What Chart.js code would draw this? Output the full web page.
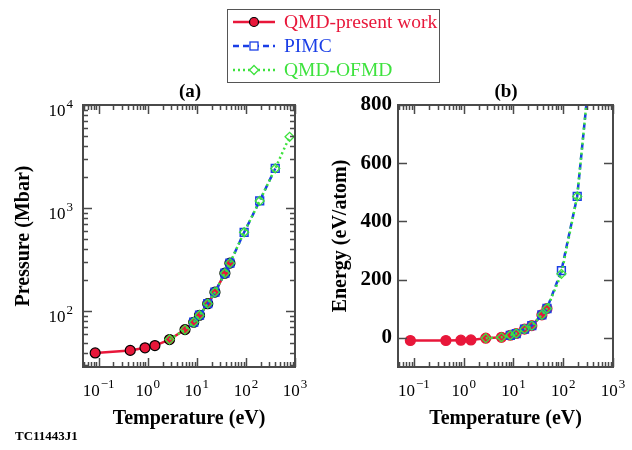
<!DOCTYPE html>
<html lang="en">
<head>
<meta charset="UTF-8">
<title>QMD vs PIMC vs OFMD</title>
<script src="https://cdn.jsdelivr.net/npm/chart.js"></script>
<style>
  body { margin: 0; width: 632px; height: 450px; background: #fff; position: relative; overflow: hidden;
         font-family: "Liberation Serif", "Times New Roman", serif; }
  .panel { position: absolute; top: 0; width: 316px; height: 450px; }
  #panelA { left: 0; }
  #panelB { left: 316px; }
  .tag { position: absolute; top: 80px; font-size: 19px; font-weight: bold; width: 40px; text-align: center; }
  #legend { position: absolute; left: 227px; top: 9px; width: 211px; height: 72px;
            border: 1.5px solid #555; box-sizing: content-box; }
  #legend .row { height: 24px; display: flex; align-items: center; font-size: 19.5px; white-space: nowrap; }
  #legend svg { margin-left: 4px; margin-right: 8px; flex: none; }
  #stamp { position: absolute; left: 15px; top: 428px; font-size: 13px; font-weight: bold; }
</style>
</head>
<body>
<div class="panel" id="panelA"><canvas id="chartA" width="316" height="450"></canvas></div>
<div class="panel" id="panelB"><canvas id="chartB" width="316" height="450"></canvas></div>
<div class="tag" style="left:170px">(a)</div>
<div class="tag" style="left:486px">(b)</div>

<div id="legend">
  <div class="row" style="color:#e8173a">
    <svg width="44" height="14"><line x1="1" y1="7" x2="43" y2="7" stroke="#e8173a" stroke-width="2.5"/>
      <circle cx="22" cy="7" r="4.5" fill="#e8173a" stroke="#000" stroke-width="1.2"/></svg>QMD-present work</div>
  <div class="row" style="color:#1a3ee6">
    <svg width="44" height="14"><line x1="1" y1="7" x2="43" y2="7" stroke="#1a3ee6" stroke-width="2.5" stroke-dasharray="6,4"/>
      <rect x="18" y="3" width="8" height="8" fill="#fff" stroke="#1a3ee6" stroke-width="1.3"/></svg>PIMC</div>
  <div class="row" style="color:#3ee23e">
    <svg width="44" height="14"><line x1="1" y1="7" x2="43" y2="7" stroke="#3ee23e" stroke-width="2.5" stroke-dasharray="2,3"/>
      <polygon points="22,2.5 26.5,7 22,11.5 17.5,7" fill="#fff" stroke="#3ee23e" stroke-width="1.3"/></svg>QMD-OFMD</div>
</div>
<div id="stamp">TC11443J1</div>

<script>
// temperatures (eV)
const qmdT  = [0.085, 0.44, 0.88, 1.4, 2.78, 5.75, 8.65, 11.35, 16.7, 23.4, 37.3, 47.2];
const pimcT = [8.65, 11.35, 16.7, 23.4, 37.3, 47.2, 92, 191, 396];
const ofmdT = [2.78, 5.75, 8.65, 11.35, 16.7, 23.4, 37.3, 47.2, 92, 191, 396, 776];

// pressure (Mbar)
const qmdP  = [39.7, 42, 44.5, 46.8, 53.5, 66.8, 78.7, 92, 119, 154, 235, 294];
const pimcP = [78.7, 92, 119, 154, 235, 294, 585, 1177, 2430];
const ofmdP = [53.5, 66.8, 78.7, 92, 119, 154, 235, 294, 585, 1177, 2430, 4920];

// energy (eV/atom)
const qmdE  = [-9, -9, -8, -7, -1, 2, 9, 15, 30, 42, 79, 101];
const pimcE = [9, 15, 30, 42, 79, 101, 231, 486, 1030];
const ofmdE = [-1, 2, 9, 15, 30, 42, 79, 101, 220, 486, 1030, 2300];

// tick labels (powers of ten drawn as base + exponent)
const tempTicks = [0.1, 1, 10, 100, 1000];
const tempExp   = ['\u22121', '0', '1', '2', '3'];
const presTicks = [100, 1000, 10000];
const presExp   = ['2', '3', '4'];
const energyTicks = [0, 200, 400, 600, 800];

const RED = '#e8173a', BLUE = '#1a3ee6', GREEN = '#3ee23e';
const FONT = "'Liberation Serif', 'Times New Roman', serif";

function pairs(xs, ys) { return xs.map((x, i) => ({x: x, y: ys[i]})); }

function drawPow(ctx, exp, x, y, align) {
  ctx.font = '17px ' + FONT;
  const wb = ctx.measureText('10').width;
  ctx.font = '13px ' + FONT;
  const we = ctx.measureText(exp).width;
  const w = wb + 1 + we;
  const x0 = align === 'center' ? x - w / 2 : x - w;
  ctx.textAlign = 'left';
  ctx.textBaseline = 'alphabetic';
  ctx.font = '17px ' + FONT;
  ctx.fillText('10', x0, y);
  ctx.font = '13px ' + FONT;
  ctx.fillText(exp, x0 + wb + 1, y - 8);
}

// frame, inward ticks on all four sides, power-of-ten labels
const frameTicks = {
  id: 'frameTicks',
  afterDraw(chart) {
    const ctx = chart.ctx, a = chart.chartArea;
    const xs = chart.scales.x, ys = chart.scales.y;
    ctx.save();
    ctx.strokeStyle = '#4a4a4a';
    ctx.lineWidth = 2;
    ctx.strokeRect(a.left, a.top, a.right - a.left, a.bottom - a.top);
    ctx.lineWidth = 1.5;
    const marks = (scale) => {
      const out = [];
      if (scale.type === 'logarithmic') {
        for (let e = Math.floor(Math.log10(scale.min)); e <= Math.ceil(Math.log10(scale.max)); e++) {
          for (let m = 1; m <= 9; m++) {
            const v = m * Math.pow(10, e);
            if (v >= scale.min * 0.999 && v <= scale.max * 1.001) out.push([v, m === 1 ? 9 : 5]);
          }
        }
      } else {
        energyTicks.forEach(v => out.push([v, 9]));
      }
      return out;
    };
    ctx.beginPath();
    marks(xs).forEach(([v, len]) => {
      const p = Math.round(xs.getPixelForValue(v)) + 0.5;
      ctx.moveTo(p, a.bottom); ctx.lineTo(p, a.bottom - len);
      ctx.moveTo(p, a.top); ctx.lineTo(p, a.top + len);
    });
    marks(ys).forEach(([v, len]) => {
      const p = Math.round(ys.getPixelForValue(v)) + 0.5;
      ctx.moveTo(a.left, p); ctx.lineTo(a.left + len, p);
      ctx.moveTo(a.right, p); ctx.lineTo(a.right - len, p);
    });
    ctx.stroke();

    ctx.fillStyle = '#000';
    tempTicks.forEach((v, i) => drawPow(ctx, tempExp[i], xs.getPixelForValue(v), a.bottom + 29, 'center'));
    if (ys.type === 'logarithmic') {
      presTicks.forEach((v, i) => drawPow(ctx, presExp[i], a.left - 10, ys.getPixelForValue(v) + 11, 'right'));
    }
    ctx.restore();
  }
};

function makeChart(id, qY, pY, oY, yScale, rightPad, qBorder) {
  return new Chart(document.getElementById(id), {
    type: 'line',
    data: {
      datasets: [
        { label: 'QMD-OFMD', data: pairs(ofmdT, oY), borderColor: GREEN, borderWidth: 2.5,
          borderDash: [2, 3], pointStyle: 'rectRot', pointRadius: 4.5, pointBorderWidth: 1.3,
          pointBorderColor: GREEN, pointBackgroundColor: 'rgba(0,0,0,0)', order: 1 },
        { label: 'PIMC', data: pairs(pimcT, pY), borderColor: BLUE, borderWidth: 2.5,
          borderDash: [6, 4], pointStyle: 'rect', pointRadius: 5.5, pointBorderWidth: 1.5,
          pointBorderColor: BLUE, pointBackgroundColor: 'rgba(0,0,0,0)', order: 2 },
        { label: 'QMD-present work', data: pairs(qmdT, qY), borderColor: RED, borderWidth: 2.5,
          pointStyle: 'circle', pointRadius: 5, pointBorderWidth: 1.2,
          pointBorderColor: qBorder, pointBackgroundColor: RED, order: 3 }
      ]
    },
    options: {
      responsive: false,
      animation: false,
      layout: { padding: { top: 105, right: rightPad, left: 0, bottom: 0 } },
      plugins: { legend: { display: false }, tooltip: { enabled: false } },
      scales: {
        x: {
          type: 'logarithmic', min: 0.048, max: 1000,
          afterBuildTicks: s => { s.ticks = tempTicks.map(v => ({value: v})); },
          afterFit: s => { s.height = 83; },
          grid: { display: false, drawTicks: false, tickLength: 0 }, border: { display: false },
          ticks: { display: false },
          title: { display: true, text: 'Temperature (eV)', color: '#000', padding: { bottom: 19 },
                   font: { family: FONT, size: 20, weight: 'bold' } }
        },
        y: yScale
      }
    },
    plugins: [frameTicks]
  });
}

const presScale = {
  type: 'logarithmic', min: 29, max: 10000,
  afterBuildTicks: s => { s.ticks = presTicks.map(v => ({value: v})); },
  afterFit: s => { s.width = 83; },
  grid: { display: false, drawTicks: false, tickLength: 0 }, border: { display: false },
  ticks: { display: false },
  title: { display: true, text: 'Pressure (Mbar)', color: '#000', padding: { top: 12 },
           font: { family: FONT, size: 20, weight: 'bold' } }
};

const energyScale = {
  type: 'linear', min: -100, max: 800,
  afterBuildTicks: s => { s.ticks = energyTicks.map(v => ({value: v})); },
  afterFit: s => { s.width = 82; },
  grid: { display: false, drawTicks: false, tickLength: 0 }, border: { display: false },
  ticks: { autoSkip: false, padding: 6, color: '#000', font: { family: FONT, size: 21, weight: 'bold' } },
  title: { display: true, text: 'Energy (eV/atom)', color: '#000', padding: { top: 13 },
           font: { family: FONT, size: 20, weight: 'bold' } }
};

makeChart('chartA', qmdP, pimcP, ofmdP, presScale, 21, '#000');
makeChart('chartB', qmdE, pimcE, ofmdE, energyScale, 19, RED);
</script>
</body>
</html>
